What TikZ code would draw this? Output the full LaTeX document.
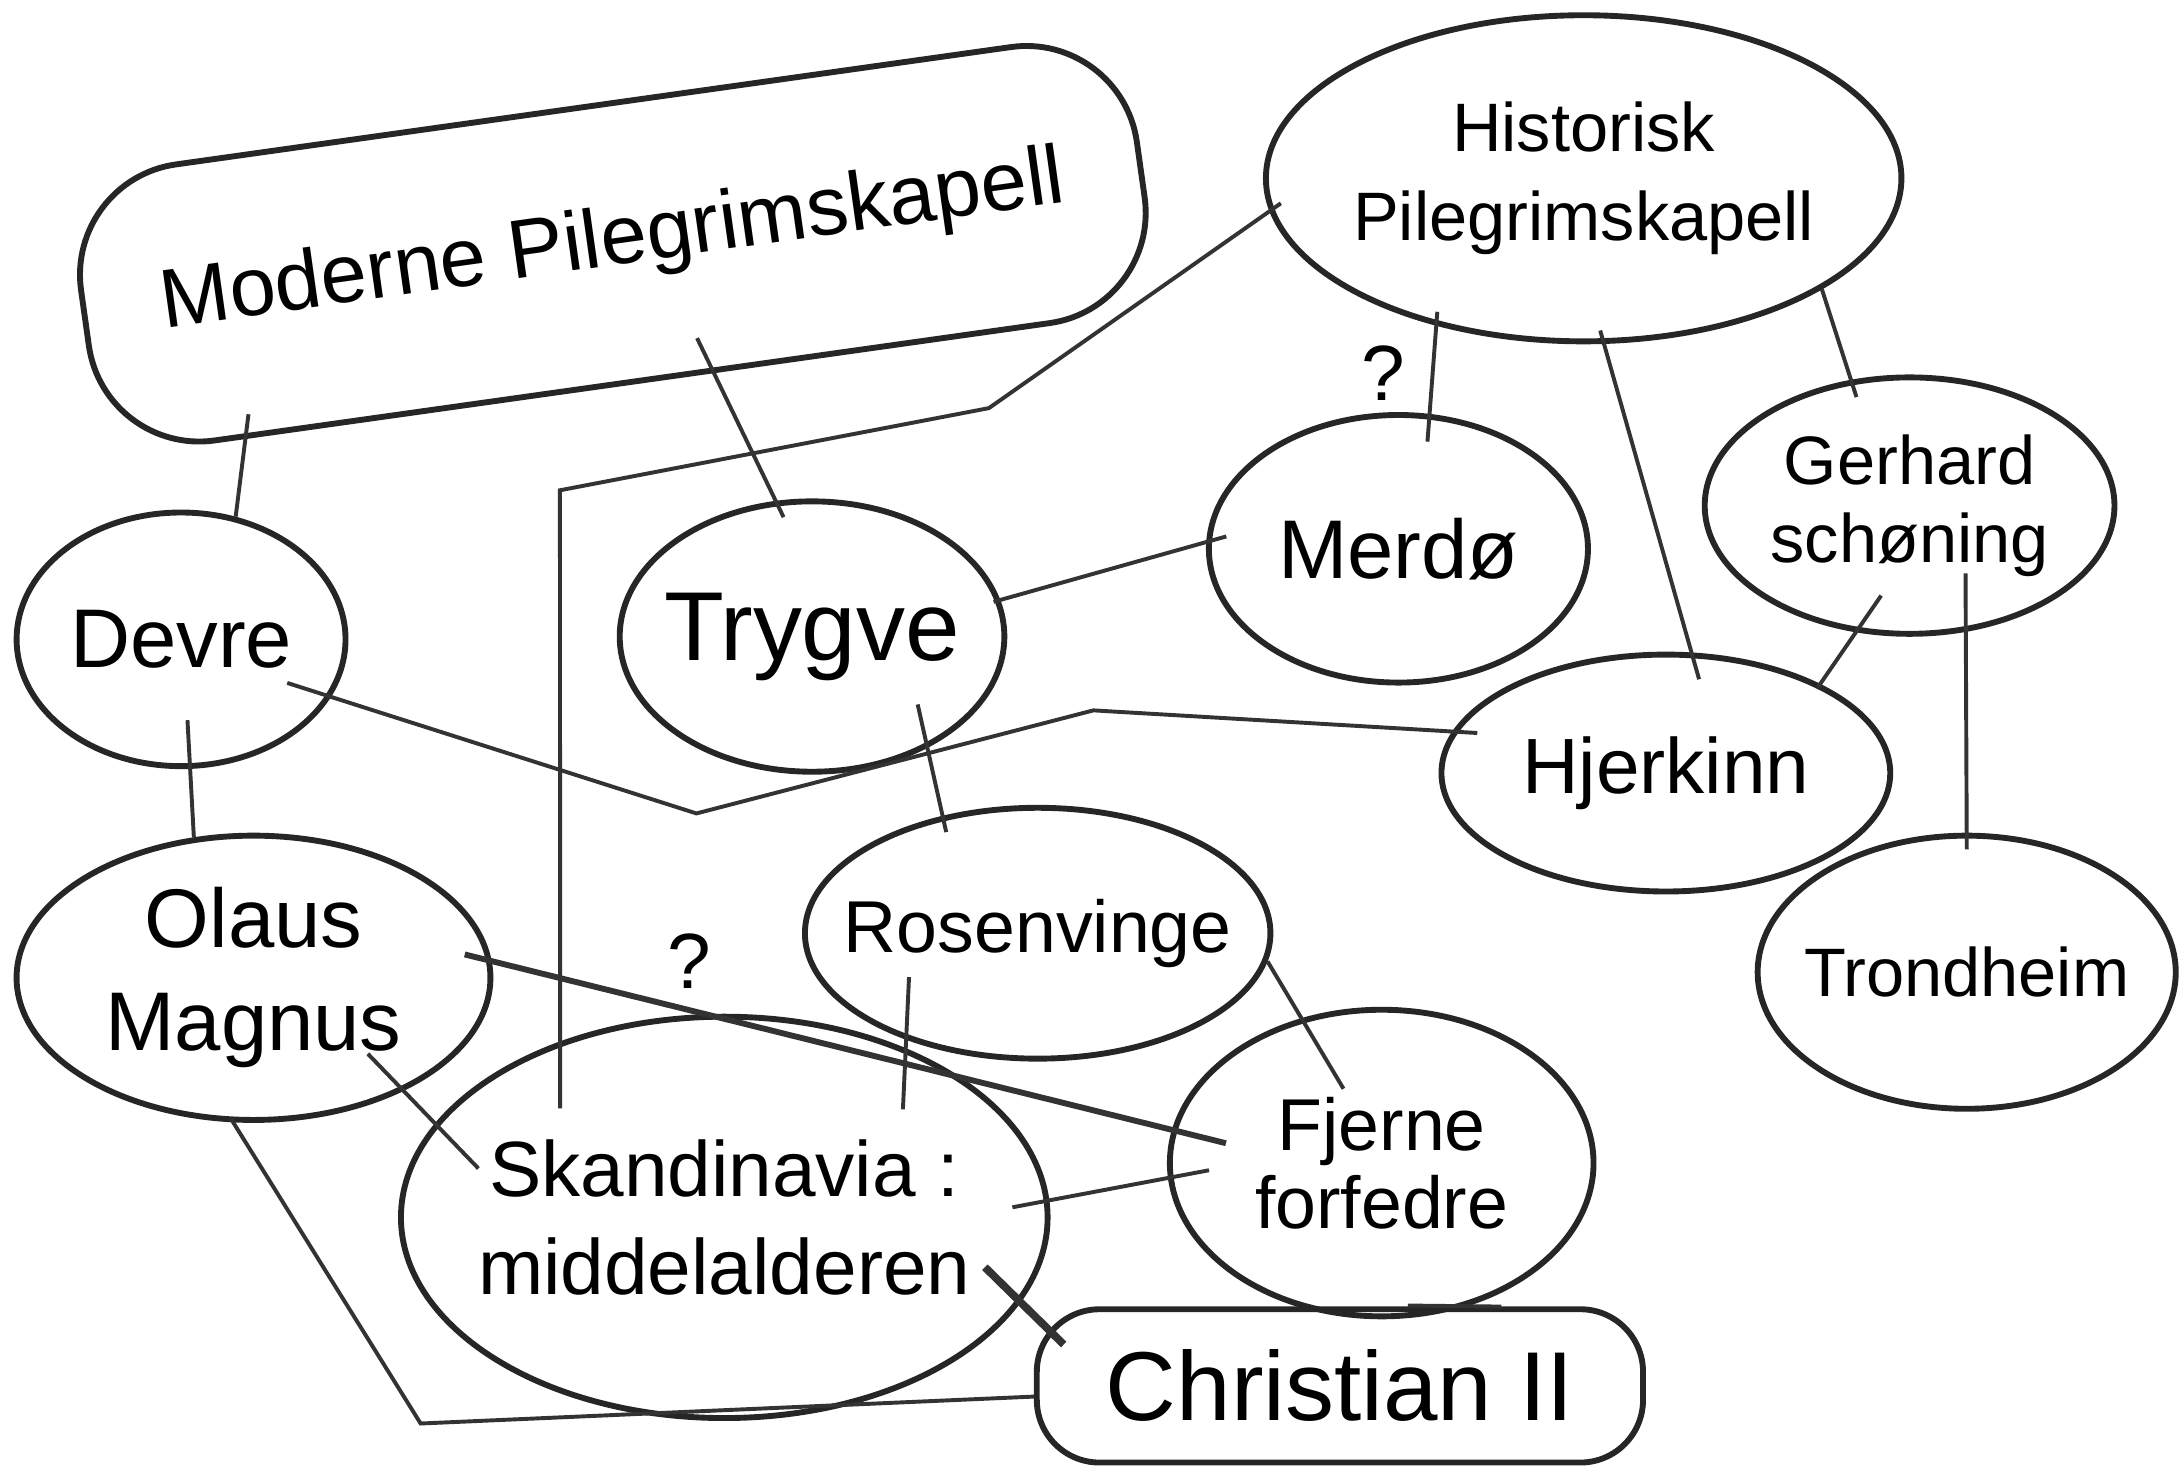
\documentclass[tikz,border=0pt]{standalone}
\usepackage{fontspec}
\setmainfont{Liberation Sans}
\usetikzlibrary{shapes.geometric}

\begin{document}
\begin{tikzpicture}[x=0.01cm,y=-0.01cm,
    bubble/.style={
      % The shape:
      ellipse,inner sep=-3mm,
      % The rest
      line width=1.2pt,draw=black!85,
      align=center},
    box/.style={
      % The shape:
      rectangle,inner sep=0pt,
      % The rest
      line width=1.2pt,draw=black!85},
    link/.style={line width=0.8pt,draw=black!80},
    hint/.style={font=\fontsize{16}{18}\selectfont}]
  \useasboundingbox (0,0) rectangle (1568,1063);

  % the topics
  \node [box,rounded corners=0.8cm,minimum width=7.65cm,minimum height=2.0cm,
    rotate=8,font=\fontsize{17}{20}\selectfont] (moderne) at (440,175) {Moderne Pilegrimskapell};
  \node [bubble,minimum width=4.56cm,minimum height=2.34cm,
    font=\fontsize{14}{18}\selectfont] (historisk) at (1137,128) {Historisk\\Pilegrimskapell};
  \node [bubble,minimum width=2.36cm,minimum height=1.82cm,
    font=\fontsize{17}{20}\selectfont] (devre) at (130,459) {Devre};
  \node [bubble,minimum width=2.76cm,minimum height=1.94cm,
    font=\fontsize{20}{24}\selectfont] (trygve) at (583,457) {Trygve};
  \node [bubble,minimum width=2.72cm,minimum height=1.92cm,
    font=\fontsize{17}{20}\selectfont] (merdo) at (1004,394) {Merdø};
  \node [bubble,minimum width=2.94cm,minimum height=1.84cm,
    font=\fontsize{14}{16}\selectfont] (gerhard) at (1371,363) {Gerhard\\schøning};
  \node [bubble,minimum width=3.22cm,minimum height=1.7cm,
    font=\fontsize{16}{19}\selectfont] (hjerkinn) at (1196,555) {Hjerkinn};
  \node [bubble,minimum width=3.4cm,minimum height=2.04cm,
    font=\fontsize{17}{21}\selectfont] (olaus) at (182,702) {Olaus\\Magnus};
  \node [bubble,minimum width=3.34cm,minimum height=1.8cm,
    font=\fontsize{15}{18}\selectfont] (rosen) at (745,670) {Rosenvinge};
  \node [bubble,minimum width=3.0cm,minimum height=1.96cm,
    font=\fontsize{14}{17}\selectfont] (trondheim) at (1412,698) {Trondheim};
  \node [bubble,minimum width=4.64cm,minimum height=2.88cm,
    font=\fontsize{16}{20}\selectfont] (skand) at (520,874) {Skandinavia :\\middelalderen};
  \node [bubble,minimum width=3.04cm,minimum height=2.2cm,
    font=\fontsize{15}{16}\selectfont] (fjerne) at (992,835) {Fjerne\\forfedre};
  \node [box,rounded corners=0.45cm,minimum width=4.35cm,minimum height=1.1cm,
    font=\fontsize{20}{24}\selectfont] (christian) at (962,995) {Christian II};

  % the doubts
  \node [hint] (qtop) at (993,268) {?};
  \node [hint] (qlow) at (495,690) {?};

  % bends of the long links
  \coordinate (hbend1) at (710,293);
  \coordinate (hbend2) at (402,352);
  \coordinate (dbend1) at (500,584);
  \coordinate (dbend2) at (785,510);
  \coordinate (obend) at (302,1022);

  % the links
  \draw [link,shorten <=-0.18cm] (moderne.200) -- (devre.66);
  \draw [link,shorten <=-0.28cm,shorten >=-0.13cm] (moderne.300) -- (trygve.105);
  \draw [link,shorten <=-0.1cm,shorten >=-0.48cm] (historisk.186) -- (hbend1) -- (hbend2) -- (skand.133);
  \draw [link,shorten <=-0.1cm,shorten >=-0.2cm] (historisk.225) -- (merdo.77);
  \draw [link,shorten <=-0.1cm,shorten >=-0.2cm] (historisk.277) -- (hjerkinn.78);
  \draw [link,shorten >=-0.13cm] (historisk.335) -- (gerhard.115);
  \draw [link,shorten <=-0.05cm,shorten >=-0.15cm] (trygve.11) -- (merdo.178);
  \draw [link,shorten <=-0.32cm,shorten >=-0.03cm] (gerhard.247) -- (hjerkinn.30);
  \draw [link,shorten <=-0.42cm,shorten >=-0.12cm] (gerhard.294) -- (trondheim.90);
  \draw [link,shorten <=-0.35cm] (devre.274) -- (olaus.113);
  \draw [link,shorten <=-0.33cm,shorten >=-0.18cm] (devre.339) -- (dbend1) -- (dbend2) -- (hjerkinn.169);
  \draw [link,shorten <=-0.32cm,shorten >=-0.12cm] (trygve.316) -- (rosen.129);
  \draw [link,line width=1.2pt,shorten <=-0.2cm,shorten >=-0.4cm] (olaus.4) -- (fjerne.171);
  \draw [link,shorten <=-0.37cm,shorten >=-0.45cm] (olaus.323) -- (skand.162);
  \draw [link,shorten <=-0.03cm] (olaus.262) -- (obend) -- (christian.182);
  \draw [link,shorten <=-0.45cm,shorten >=-0.44cm] (rosen.219) -- (skand.43);
  \draw [link,shorten >=-0.59cm] (rosen.353) -- (fjerne.119);
  \draw [link,shorten <=-0.27cm,shorten >=-0.3cm] (skand.3) -- (fjerne.184);
  \draw [link,line width=1.6pt,shorten <=-0.36cm,shorten >=-0.3cm] (skand.344) -- (christian.167);
  \draw [link,shorten <=-0.43cm,shorten >=-0.17cm] (fjerne.301) -- (christian.30);
\end{tikzpicture}
\end{document}
